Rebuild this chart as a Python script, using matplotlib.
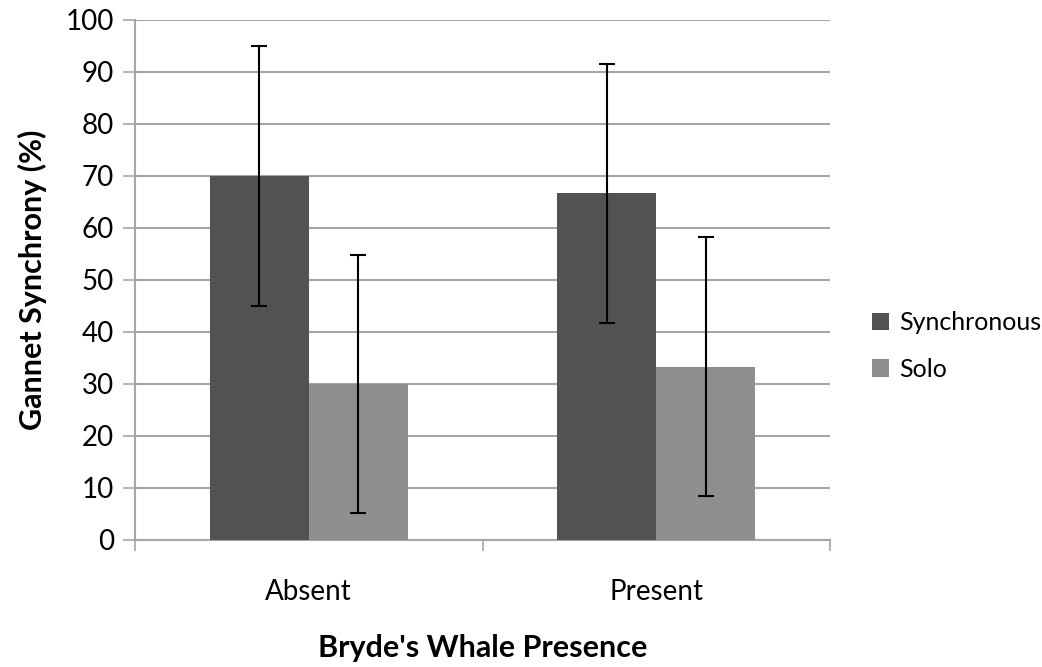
import matplotlib
matplotlib.use("Agg")
import matplotlib.pyplot as plt
import numpy as np

categories = ["Absent", "Present"]
synchronous = [70.0, 66.7]
solo = [30.0, 33.3]
synchronous_err = [25.0, 24.9]
solo_err = [24.8, 24.9]

plt.rcParams['font.family'] = ['Lato', 'DejaVu Sans']

fig = plt.figure(figsize=(10.42, 6.67), dpi=100)
ax = fig.add_axes([135/1042, 1-540/667, (830-135)/1042, (540-20)/667])

x = np.arange(len(categories))
w = 0.285
ax.bar(x - w/2, synchronous, w, color="#525252", label="Synchronous", zorder=3)
ax.bar(x + w/2, solo, w, color="#8f8f8f", label="Solo", zorder=3)
ax.errorbar(x - w/2, synchronous, yerr=synchronous_err, fmt="none", ecolor="black",
            elinewidth=1.5, capsize=6, capthick=1.5, zorder=4)
ax.errorbar(x + w/2, solo, yerr=solo_err, fmt="none", ecolor="black",
            elinewidth=1.5, capsize=6, capthick=1.5, zorder=4)

ax.set_xlim(-0.5, 1.5)
ax.set_ylim(0, 100)
ax.set_yticks(np.arange(0, 101, 10))
ax.yaxis.grid(True, color="#a6a6a6", linewidth=1.5, zorder=0)
ax.set_axisbelow(True)

ax.set_xticks([-0.5, 0.5, 1.5], minor=False)
ax.set_xticklabels([])
ax.set_xticks(x, minor=True)
ax.set_xticklabels(categories, minor=True, fontsize=20)
ax.tick_params(axis="x", which="minor", length=0, pad=28)
ax.tick_params(axis="x", which="major", length=8, width=1.2, color="#a6a6a6", direction="out")
ax.tick_params(axis="y", length=9, width=1.2, color="#a6a6a6", labelsize=20, pad=6)

for s in ["top", "right"]:
    ax.spines[s].set_visible(False)
for s in ["left", "bottom"]:
    ax.spines[s].set_color("#a6a6a6")
    ax.spines[s].set_linewidth(1.5)

ax.set_ylabel("Gannet Synchrony (%)", fontsize=22, fontweight="bold", va="center")
ax.yaxis.set_label_coords(-(135-32)/695, 0.5)
ax.set_xlabel("Bryde's Whale Presence", fontsize=22, fontweight="bold", va="center")
ax.xaxis.set_label_coords(0.5, -(648-540)/520)

leg = ax.legend(loc="center left", bbox_to_anchor=(1.06, 0.373), frameon=False,
                fontsize=18, handlelength=0.7, handleheight=0.7, handletextpad=0.4,
                labelspacing=0.95, borderaxespad=0, borderpad=0)

fig.savefig("out.png", dpi=100)
